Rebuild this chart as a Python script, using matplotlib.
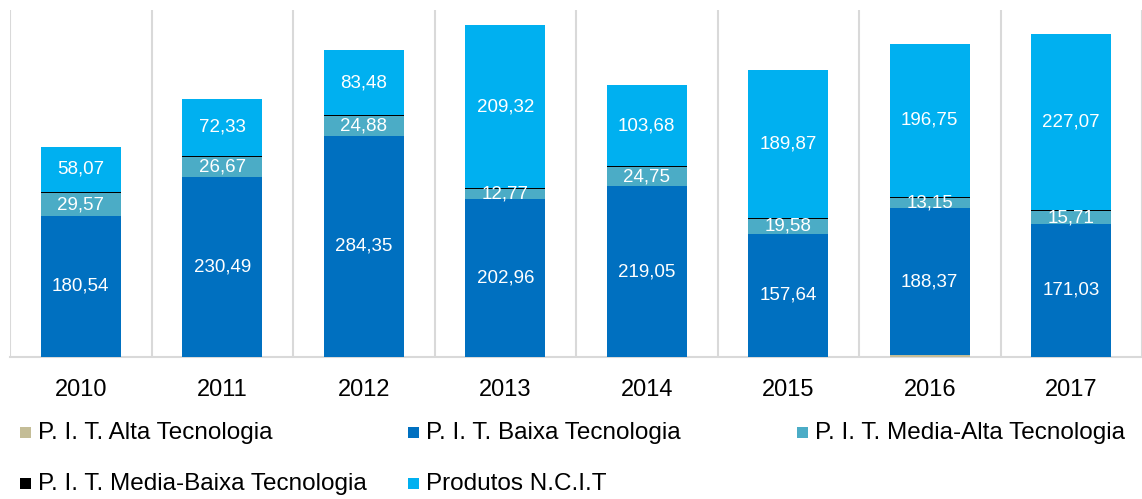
import matplotlib
matplotlib.use("Agg")
import matplotlib.pyplot as plt
from matplotlib.patches import Rectangle
import numpy as np

plt.rcParams['font.family'] = ['Liberation Sans', 'DejaVu Sans']

years = ["2010", "2011", "2012", "2013", "2014", "2015", "2016", "2017"]
alta = [0.6, 0.3, 0.3, 0.3, 0.3, 0.6, 2.5, 0.3]
baixa = [180.54, 230.49, 284.35, 202.96, 219.05, 157.64, 188.37, 171.03]
media_alta = [29.57, 26.67, 24.88, 12.77, 24.75, 19.58, 13.15, 15.71]
media_baixa = [1.6, 1.5, 1.2, 1.0, 1.5, 1.4, 1.6, 1.3]
ncit = [58.07, 72.33, 83.48, 209.32, 103.68, 189.87, 196.75, 227.07]

series_names = ["P. I. T. Alta Tecnologia", "P. I. T. Baixa Tecnologia",
                "P. I. T. Media-Alta Tecnologia", "P. I. T. Media-Baixa Tecnologia",
                "Produtos N.C.I.T"]
colors = ["#C4BD97", "#0070C0", "#4BACC6", "#000000", "#00B0F0"]
series = [alta, baixa, media_alta, media_baixa, ncit]
labelled = [False, True, True, False, True]

W, H = 1142, 499
fig = plt.figure(figsize=(W / 100, H / 100), dpi=100)
ax = fig.add_axes([10 / W, 1 - 357 / H, 1132 / W, 347 / H])

x = np.arange(len(years))
bottom = np.zeros(len(years))
bw = 0.565
for vals, col, lab in zip(series, colors, labelled):
    vals = np.array(vals)
    ax.bar(x, vals, bw, bottom=bottom, color=col, linewidth=0, zorder=3)
    if lab:
        for xi, b, v in zip(x, bottom, vals):
            ax.text(xi, b + v / 2, f"{v:.2f}".replace(".", ","), ha="center",
                    va="center", color="white", fontsize=13.5, zorder=4)
    bottom += vals

ax.set_xlim(-0.5, len(years) - 0.5)
ax.set_ylim(0, 446)
for b in np.arange(-0.5, len(years), 1.0):
    ax.axvline(b, color="#D9D9D9", lw=1.5, zorder=1)
for s in ["top", "right", "left"]:
    ax.spines[s].set_visible(False)
ax.spines["bottom"].set_color("#D9D9D9")
ax.spines["bottom"].set_linewidth(1.5)
ax.set_yticks([])
ax.set_xticks(x)
ax.set_xticklabels(years, fontsize=17, color="#000000")
ax.tick_params(axis="x", length=0, pad=16)

# legend placed manually (row-major, fixed column positions)
leg_pos = [(20, 433), (408, 433), (797, 433), (20, 484), (408, 484)]
for (px, py), name, col in zip(leg_pos, series_names, colors):
    fig.patches.append(Rectangle((px / W, 1 - (py + 5) / H), 11 / W, 11 / H,
                                 transform=fig.transFigure, facecolor=col,
                                 edgecolor="none"))
    fig.text((px + 18) / W, 1 - py / H, name, ha="left", va="center",
             fontsize=17.5, color="#000000")

fig.savefig("out.png", dpi=100)
